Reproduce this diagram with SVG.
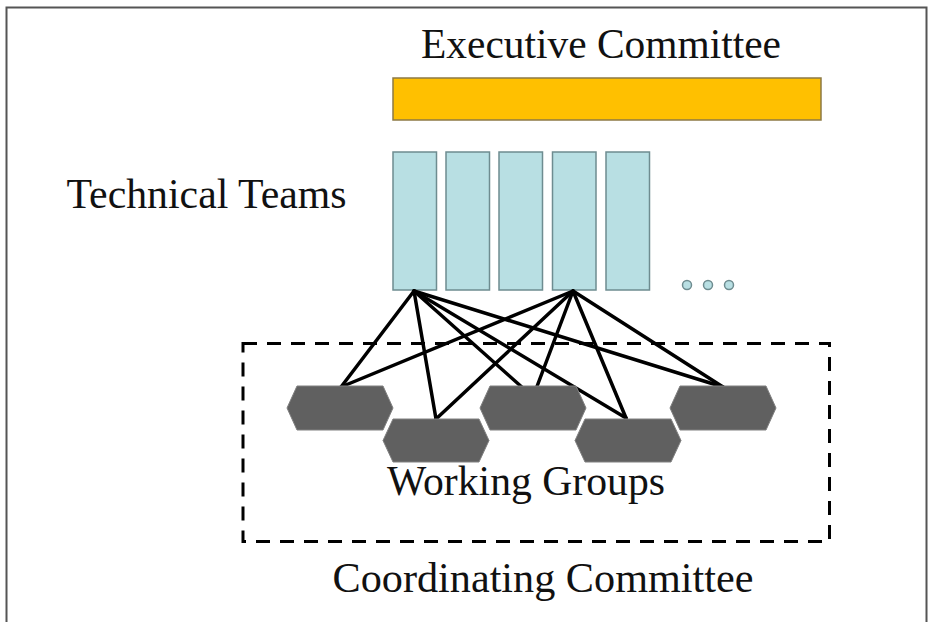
<svg xmlns="http://www.w3.org/2000/svg" width="930" height="622" viewBox="0 0 930 622">
<style>
.lbl{font-family:"Liberation Serif","Times New Roman",serif;font-size:42px;fill:#111}
.team{fill:#b8dfe3;stroke:#6e8c90;stroke-width:1.5}
.wg{fill:#606060;stroke:#808080;stroke-width:1}
.link{stroke:#000;stroke-width:3.5;fill:none;stroke-linecap:round}
.dot{fill:#b8dfe3;stroke:#6e8c90;stroke-width:1.5}
</style>
<rect width="930" height="622" fill="#fff"/>
<path d="M6.5,622 V7.5 H926.5 V622" fill="none" stroke="#555" stroke-width="2"/>
<g id="coordinating">
<rect x="243" y="343.5" width="586.5" height="198" fill="none" stroke="#000" stroke-width="3" stroke-dasharray="14,10"/>
<text class="lbl" x="543" y="592" text-anchor="middle" textLength="421" lengthAdjust="spacingAndGlyphs">Coordinating Committee</text>
</g>
<g id="executive">
<rect x="393" y="78" width="428" height="42" fill="#ffc000" stroke="#8d7a45" stroke-width="1.5"/>
<text class="lbl" x="601" y="58" text-anchor="middle" textLength="360" lengthAdjust="spacingAndGlyphs">Executive Committee</text>
</g>
<g id="technical-teams">
<text class="lbl" x="66.5" y="208" textLength="280" lengthAdjust="spacingAndGlyphs">Technical Teams</text>
<rect class="team" x="393" y="152" width="43.5" height="138"/>
<rect class="team" x="446" y="152" width="43.5" height="138"/>
<rect class="team" x="499" y="152" width="43.5" height="138"/>
<rect class="team" x="552.5" y="152" width="43.5" height="138"/>
<rect class="team" x="606" y="152" width="43.5" height="138"/>
<circle class="dot" cx="687" cy="285" r="4.5"/>
<circle class="dot" cx="708" cy="285" r="4.5"/>
<circle class="dot" cx="729" cy="285" r="4.5"/>
</g>
<g id="connectors">
<line class="link" x1="414" y1="291" x2="341" y2="387"/>
<line class="link" x1="414" y1="291" x2="436" y2="419"/>
<line class="link" x1="414" y1="291" x2="533" y2="397"/>
<line class="link" x1="414" y1="291" x2="626" y2="418"/>
<line class="link" x1="414" y1="291" x2="723" y2="387"/>
<line class="link" x1="573" y1="291" x2="341" y2="387"/>
<line class="link" x1="573" y1="291" x2="436" y2="419"/>
<line class="link" x1="573" y1="291" x2="533" y2="397"/>
<line class="link" x1="573" y1="291" x2="626" y2="418"/>
<line class="link" x1="573" y1="291" x2="723" y2="387"/>
</g>
<g id="working-groups">
<polygon class="wg" points="297,386 383,386 393,408 383,430 297,430 287,408"/>
<polygon class="wg" points="490,386 576,386 586,408 576,430 490,430 480,408"/>
<polygon class="wg" points="680,386 766,386 776,408 766,430 680,430 670,408"/>
<polygon class="wg" points="393,419 479,419 489,440.5 479,462 393,462 383,440.5"/>
<polygon class="wg" points="585,419 671,419 681,440.5 671,462 585,462 575,440.5"/>
<text class="lbl" x="526" y="495" text-anchor="middle" textLength="278" lengthAdjust="spacingAndGlyphs">Working Groups</text>
</g>
</svg>
